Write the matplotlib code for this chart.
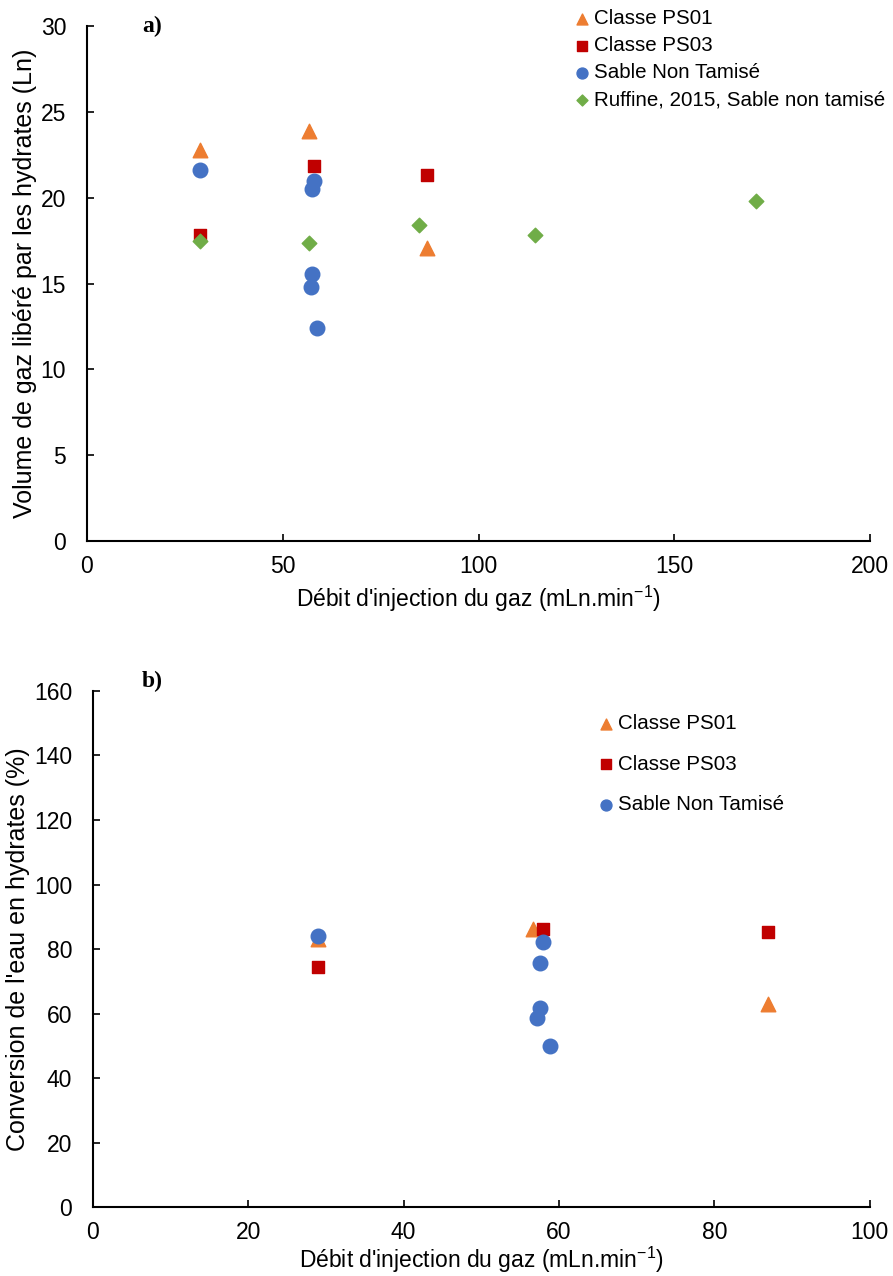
import numpy as np
import matplotlib
matplotlib.use('Agg')
import matplotlib.pyplot as plt

plt.rcParams['font.family'] = ['Liberation Sans', 'DejaVu Sans']

# Panel a) volume de gaz libéré
a_ps01_x = [28.9, 56.7, 86.8]
a_ps01_y = [22.75, 23.9, 17.05]
a_ps03_x = [28.9, 58.0, 86.8]
a_ps03_y = [17.85, 21.85, 21.3]
a_sable_x = [28.9, 58.0, 57.5, 57.5, 57.2, 58.7]
a_sable_y = [21.6, 20.95, 20.5, 15.55, 14.8, 12.4]
a_ruff_x = [28.9, 56.7, 84.8, 114.4, 170.9]
a_ruff_y = [17.45, 17.35, 18.4, 17.85, 19.8]

# Panel b) conversion de l'eau
b_ps01_x = [29.0, 56.6, 86.9]
b_ps01_y = [83.0, 86.2, 63.0]
b_ps03_x = [29.0, 57.9, 86.9]
b_ps03_y = [74.3, 86.2, 85.2]
b_sable_x = [29.0, 58.0, 57.5, 57.5, 57.2, 58.8]
b_sable_y = [84.0, 82.2, 75.7, 61.7, 58.6, 49.9]

c_orange = '#ED7D31'
c_red = '#C00000'
c_blue = '#4472C4'
c_green = '#70AD47'

xlab = "Débit d'injection du gaz (mLn.min$^{\\mathregular{-1}}$)"

fig = plt.figure(figsize=(8.93, 12.76), dpi=100)
ax1 = fig.add_axes([0.0974, 0.576, 0.877, 0.4036])
ax2 = fig.add_axes([0.104, 0.054, 0.870, 0.4045])


def style(ax):
    for s in ['top', 'right']:
        ax.spines[s].set_visible(False)
    for s in ['left', 'bottom']:
        ax.spines[s].set_linewidth(1.5)
        ax.spines[s].set_color('black')
    ax.tick_params(direction='in', length=5, width=1.2, labelsize=16.5)
    ax.tick_params(axis='y', pad=15)
    ax.tick_params(axis='x', pad=10)


leg_kw = dict(frameon=False, fontsize=14.8, handletextpad=0.3, markerscale=0.75,
              handlelength=0.6, borderpad=0, borderaxespad=0, loc='upper left')

ax1.scatter(a_ps01_x, a_ps01_y, marker='^', s=110, color=c_orange, label='Classe PS01', zorder=3)
ax1.scatter(a_ps03_x, a_ps03_y, marker='s', s=85, color=c_red, label='Classe PS03', zorder=3)
ax1.scatter(a_sable_x, a_sable_y, marker='o', s=110, color=c_blue, label='Sable Non Tamisé', zorder=3)
ax1.scatter(a_ruff_x, a_ruff_y, marker='D', s=55, color=c_green, label='Ruffine, 2015, Sable non tamisé', zorder=4)
ax1.set_xlim(0, 200)
ax1.set_ylim(0, 30)
ax1.set_xticks([0, 50, 100, 150, 200])
ax1.set_yticks([0, 5, 10, 15, 20, 25, 30])
style(ax1)
ax1.set_xlabel(xlab, fontsize=16.5)
ax1.set_ylabel('Volume de gaz libéré par les hydrates (Ln)', fontsize=18)
ax1.xaxis.set_label_coords(0.5, -0.083)
ax1.yaxis.set_label_coords(-0.064, 0.5)
ax1.legend(bbox_to_anchor=(576 / 893, 1 - 9 / 1276), bbox_transform=fig.transFigure,
           labelspacing=0.4, **leg_kw)
fig.text(142 / 893, 1 - 26 / 1276, 'a)', fontsize=17, fontweight='bold', family='Liberation Serif', va='center')

ax2.scatter(b_ps01_x, b_ps01_y, marker='^', s=110, color=c_orange, label='Classe PS01', zorder=3)
ax2.scatter(b_ps03_x, b_ps03_y, marker='s', s=85, color=c_red, label='Classe PS03', zorder=3)
ax2.scatter(b_sable_x, b_sable_y, marker='o', s=110, color=c_blue, label='Sable Non Tamisé', zorder=4)
ax2.set_xlim(0, 100)
ax2.set_ylim(0, 160)
ax2.set_xticks([0, 20, 40, 60, 80, 100])
ax2.set_yticks([0, 20, 40, 60, 80, 100, 120, 140, 160])
style(ax2)
ax2.set_xlabel(xlab, fontsize=16.5)
ax2.set_ylabel("Conversion de l'eau en hydrates (%)", fontsize=18)
ax2.xaxis.set_label_coords(0.5, -0.073)
ax2.yaxis.set_label_coords(-0.081, 0.5)
ax2.legend(bbox_to_anchor=(600 / 893, 1 - 714 / 1276), bbox_transform=fig.transFigure,
           labelspacing=1.05, **leg_kw)
fig.text(142 / 893, 1 - 681 / 1276, 'b)', fontsize=17, fontweight='bold', family='Liberation Serif', va='center')

fig.savefig('out.png', dpi=100)
